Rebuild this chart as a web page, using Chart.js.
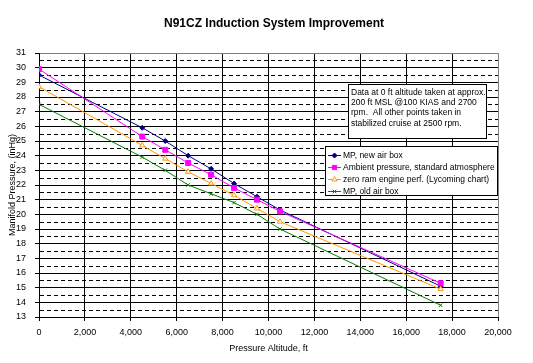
<!DOCTYPE html>
<html>
<head>
<meta charset="utf-8">
<script src="https://cdn.jsdelivr.net/npm/chart.js@4/dist/chart.umd.min.js"></script>
<style>
  html, body { margin: 0; padding: 0; background: #fff; }
  canvas { display: block; }
</style>
</head>
<body>
<canvas id="chart" width="533" height="363"></canvas>
<script>
// values
const altitudeFt = [0, 4500, 5500, 6500, 7500, 8500, 9500, 10500, 17500];
const mpNewAirBox = [29.5, 25.9, 25.0, 24.0, 23.1, 22.1, 21.2, 20.3, 15.1];
const ambientPressure = [29.9, 25.3, 24.4, 23.5, 22.7, 21.8, 21.0, 20.2, 15.3];
const zeroRamPerf = [28.7, 24.7, 23.8, 22.9, 22.1, 21.3, 20.4, 19.5, 14.9];
const mpOldAirBox = [27.5, 23.9, 23.0, 22.0, 21.4, 20.8, 20.0, 19.0, 13.8];

const seriesLabels = [
  'MP, new air box',
  'Ambient pressure, standard atmosphere',
  'zero ram engine perf. (Lycoming chart)',
  'MP, old air box'
];
const noteLines = [
  'Data at 0 ft altitude taken at approx.',
  '200 ft MSL @100 KIAS and 2700',
  'rpm.  All other points taken in',
  'stabilized cruise at 2500 rpm.'
];

const FONT = 'Arial, "Liberation Sans", sans-serif';

function pts(ys){ return altitudeFt.map((x, i) => ({ x, y: ys[i] })); }

function series(label, ys, color, style, radius, fill, order){
  return {
    label, data: pts(ys), order,
    borderColor: color, borderWidth: 1,
    pointStyle: style, pointRadius: radius, pointHoverRadius: radius,
    pointBackgroundColor: fill, pointBorderColor: color, pointBorderWidth: 1,
    tension: 0, fill: false
  };
}

// dashed lines at the half-inch values
const halfGrid = {
  id: 'halfGrid',
  beforeDatasetsDraw(chart){
    const { ctx, chartArea: a, scales: { y } } = chart;
    ctx.save();
    ctx.strokeStyle = '#000'; ctx.lineWidth = 1; ctx.setLineDash([4, 3]);
    for (let v = y.min + 0.5; v < y.max; v += 1){
      const py = Math.round(y.getPixelForValue(v)) + 0.5;
      ctx.beginPath(); ctx.moveTo(a.left + 1, py); ctx.lineTo(a.right, py); ctx.stroke();
    }
    ctx.restore();
  }
};

// boxed legend + note, placed like the original
const boxes = {
  id: 'boxes',
  afterDraw(chart){
    const ctx = chart.ctx;
    ctx.save();
    ctx.font = '8.5px ' + FONT;
    ctx.textBaseline = 'middle';

    // note box
    ctx.fillStyle = '#fff'; ctx.strokeStyle = '#000'; ctx.lineWidth = 1;
    ctx.fillRect(348.5, 84.5, 138, 54); ctx.strokeRect(348.5, 84.5, 138, 54);
    ctx.fillStyle = '#000';
    noteLines.forEach((t, i) => ctx.fillText(t, 351, 92.5 + i * 10.3));

    // legend box
    ctx.fillStyle = '#fff';
    ctx.fillRect(325.5, 146.5, 172, 49); ctx.strokeRect(325.5, 146.5, 172, 49);
    chart.data.datasets.forEach((ds, i) => {
      const yy = 155 + i * 12;
      ctx.strokeStyle = ds.borderColor; ctx.lineWidth = 1;
      ctx.beginPath(); ctx.moveTo(328, yy + 0.5); ctx.lineTo(341, yy + 0.5); ctx.stroke();
      ctx.fillStyle = ds.pointBackgroundColor; ctx.strokeStyle = ds.pointBorderColor;
      Chart.helpers.drawPoint(ctx, { pointStyle: ds.pointStyle, rotation: 0, radius: Math.min(ds.pointRadius, 3), borderWidth: 1 }, 334.5, yy + 0.5);
      ctx.fillStyle = '#000';
      ctx.fillText(ds.label, 343, yy + 0.5);
    });
    ctx.restore();
  }
};

new Chart(document.getElementById('chart'), {
  type: 'line',
  data: {
    datasets: [
      series(seriesLabels[0], mpNewAirBox, '#000080', 'rectRot', 2.5, '#000080', 4),
      series(seriesLabels[1], ambientPressure, '#FF00FF', 'rect', 3.5, '#FF00FF', 3),
      series(seriesLabels[2], zeroRamPerf, '#FF9900', 'triangle', 3, '#FFFFFF', 2),
      series(seriesLabels[3], mpOldAirBox, '#008000', 'crossRot', 2.5, '#008000', 1)
    ]
  },
  options: {
    responsive: false,
    animation: false,
    devicePixelRatio: 1,
    layout: { padding: { left: 15, right: 0, top: 0, bottom: 0 } },
    plugins: {
      legend: { display: false },
      tooltip: { enabled: false },
      title: {
        display: true,
        text: 'N91CZ Induction System Improvement',
        color: '#000',
        font: { family: FONT, size: 12, weight: 'bold' },
        padding: { top: 16, bottom: 22.6 }
      }
    },
    scales: {
      x: {
        type: 'linear', min: 0, max: 20000,
        afterFit: s => { s.height = 46; },
        ticks: {
          stepSize: 2000, color: '#000', padding: 6,
          font: { family: FONT, size: 9 },
          callback: v => v.toLocaleString('en-US')
        },
        grid: {
          color: c => c.tick && c.tick.value === 20000 ? '#808080' : '#000',
          tickColor: '#000', tickLength: 4, lineWidth: 1
        },
        border: { color: '#000', width: 1 },
        title: {
          display: true, text: 'Pressure Altitude, ft', color: '#000',
          font: { family: FONT, size: 9 }, padding: { top: 0, bottom: 9 }
        }
      },
      y: {
        min: 13, max: 31,
        afterFit: s => { s.width = 24; },
        ticks: { stepSize: 1, color: '#000', padding: 9, font: { family: FONT, size: 9 } },
        grid: {
          color: c => c.tick && c.tick.value === 31 ? '#808080' : '#000',
          tickColor: '#000', tickLength: 4, lineWidth: 1
        },
        border: { color: '#000', width: 1 },
        title: {
          display: true, text: 'Manifold Pressure, (inHg)', color: '#000',
          font: { family: FONT, size: 9 }, padding: { top: -8, bottom: 0 }
        }
      },
      // empty right-hand axis that only reserves the white margin
      spacer: {
        type: 'linear', position: 'right',
        afterFit: s => { s.width = 35; },
        ticks: { display: false }, grid: { display: false },
        border: { display: false }, title: { display: false }
      }
    }
  },
  plugins: [halfGrid, boxes]
});
</script>
</body>
</html>
